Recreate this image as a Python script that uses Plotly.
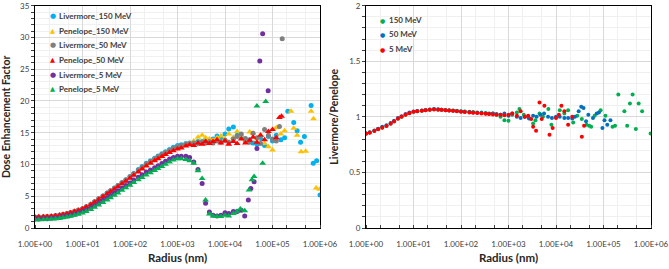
import plotly.graph_objects as go

# ---------------- data ----------------
radius_common = [1, 1.2, 1.5, 1.8, 2.2, 2.7, 3.3, 3.9, 4.7, 5.6, 6.8, 8.2,
                 10, 12, 15, 18, 22, 27, 33, 39, 47, 56, 68, 82,
                 100, 120, 150, 180, 220, 270, 330, 390, 470, 560, 680, 820, 1000]

# Left panel: Dose Enhancement Factor (values at radius_common)
liv150_low = [1.6, 1.65, 1.7, 1.75, 1.8, 1.9, 2.0, 2.1, 2.25, 2.4, 2.6, 2.8, 3.05, 3.35, 3.75, 4.15, 4.6, 5.05, 5.5,
              5.85, 6.3, 6.7, 7.15, 7.6, 8.1, 8.6, 9.2, 9.7, 10.2, 10.6, 11.0, 11.35, 11.7, 12.0, 12.35, 12.7, 13.0]
pen150_low = [1.6, 1.62, 1.66, 1.7, 1.76, 1.84, 1.95, 2.05, 2.2, 2.35, 2.55, 2.75, 3.0, 3.3, 3.7, 4.05, 4.5, 4.95, 5.4,
              5.75, 6.15, 6.55, 7.0, 7.45, 7.9, 8.4, 8.95, 9.4, 9.9, 10.35, 10.8, 11.15, 11.5, 11.9, 12.2, 12.5, 12.8]
liv50_low = [1.7, 1.72, 1.76, 1.8, 1.86, 1.95, 2.05, 2.15, 2.3, 2.45, 2.65, 2.85, 3.05, 3.35, 3.75, 4.15, 4.6, 5.05,
             5.5, 5.85, 6.27, 6.68, 7.13, 7.57, 8.05, 8.55, 9.07, 9.56, 10.06, 10.48, 10.88, 11.2, 11.56, 11.88, 12.2,
             12.5, 12.8]
pen50_low = [1.75, 1.76, 1.78, 1.8, 1.85, 1.92, 2.02, 2.12, 2.26, 2.4, 2.58, 2.77, 3.0, 3.3, 3.66, 4.04, 4.48, 4.92,
             5.35, 5.7, 6.1, 6.5, 6.95, 7.38, 7.85, 8.32, 8.82, 9.27, 9.75, 10.18, 10.58, 10.92, 11.27, 11.58, 11.9,
             12.18, 12.42]
liv5_low = [1.4, 1.41, 1.44, 1.47, 1.52, 1.58, 1.67, 1.76, 1.88, 2.01, 2.18, 2.35, 2.55, 2.83, 3.18, 3.52, 3.92, 4.35,
            4.76, 5.1, 5.5, 5.88, 6.3, 6.7, 7.1, 7.55, 8.0, 8.4, 8.8, 9.15, 9.5, 9.8, 10.15, 10.5, 10.85, 11.1, 11.3]
pen5_low = [1.3, 1.31, 1.33, 1.36, 1.4, 1.46, 1.54, 1.62, 1.74, 1.86, 2.02, 2.18, 2.35, 2.6, 2.92, 3.25, 3.62, 4.02,
            4.42, 4.76, 5.15, 5.52, 5.95, 6.35, 6.75, 7.15, 7.6, 7.95, 8.35, 8.7, 9.05, 9.35, 9.7, 10.05, 10.4, 10.7,
            10.9]

liv150_tail_r = [1200, 1500, 1800, 2200, 2700, 3300, 3900, 4700, 5600, 6800, 8200, 10000, 12000, 15000, 18000, 22000,
                 27000, 33000, 39000, 47000, 56000, 68000, 82000, 100000, 120000, 150000, 180000, 210000, 280000,
                 330000, 390000, 470000, 650000, 720000, 850000, 1000000]
liv150_tail_v = [13.1, 13.3, 13.4, 13.5, 13.6, 13.6, 13.8, 13.7, 14.0, 14.5, 14.2, 14.8, 15.6, 15.9, 14.6, 14.2, 13.6,
                 13.9, 13.4, 13.2, 14.1, 13.0, 14.4, 13.7, 14.6, 13.9, 14.2, 18.4, 16.6, 15.3, 13.5, 14.4, 19.3, 10.2,
                 10.6, 5.2]
pen150_tail_r = [1200, 1500, 1800, 2200, 2700, 3300, 3900, 4700, 5600, 6800, 8200, 10000, 12000, 15000, 18000, 22000,
                 27000, 33000, 39000, 47000, 56000, 68000, 82000, 100000, 120000, 150000, 180000, 245000, 280000,
                 330000, 400000, 500000, 650000, 730000, 830000, 980000]
pen150_tail_v = [12.9, 13.2, 13.4, 13.7, 14.3, 14.6, 14.2, 14.0, 13.8, 14.2, 14.5, 14.0, 14.8, 14.3, 15.2, 14.6, 13.9,
                 15.1, 14.9, 14.0, 14.6, 13.3, 12.8, 12.3, 15.8, 14.8, 15.3, 18.4, 15.7, 14.6, 12.0, 12.1, 18.4, 17.2,
                 6.3, 6.1]
liv50_tail_r = [1200, 1500, 1800, 2200, 2700, 3300, 3900, 4700, 5600, 6800, 8200, 10000, 12000, 15000, 18000, 22000,
                27000, 33000, 39000, 47000, 56000, 68000, 82000, 100000, 120000, 140000, 160000]
liv50_tail_v = [13.0, 13.2, 13.3, 13.4, 13.3, 13.5, 13.4, 13.6, 13.4, 13.7, 13.5, 13.8, 13.5, 14.0, 14.4, 14.8, 14.1,
                13.5, 14.9, 14.2, 13.3, 15.5, 14.6, 14.0, 13.7, 16.0, 29.8]
pen50_tail_r = [1200, 1500, 1800, 2200, 2700, 3300, 3900, 4700, 5600, 6800, 8200, 10000, 12000, 15000, 18000, 22000,
                27000, 33000, 39000, 47000, 56000, 68000, 82000, 100000, 120000, 140000, 155000]
pen50_tail_v = [12.6, 12.9, 13.1, 13.0, 13.4, 13.2, 13.6, 13.3, 13.6, 13.9, 13.4, 13.7, 13.2, 13.6, 13.3, 14.0, 13.4,
                13.8, 14.3, 13.5, 14.6, 13.9, 15.2, 15.5, 14.2, 17.4, 17.6]
liv5_tail_r = [1200, 1500, 1800, 2200, 2700, 3300, 3900, 4700, 5600, 6800, 8200, 10000, 12000, 15000, 18000, 22000,
               26000, 31000, 35000, 41000, 47000, 54000, 62000, 81000]
liv5_tail_v = [11.3, 11.3, 11.1, 10.4, 9.2, 7.0, 3.9, 2.5, 2.0, 1.9, 2.0, 2.4, 2.3, 2.6, 2.6, 2.8, 1.9, 4.4, 6.2, 7.3,
               12.5, 26.3, 30.6, 21.6]
pen5_tail_r = [1200, 1500, 1800, 2200, 2700, 3300, 3900, 4700, 5600, 6800, 8200, 10000, 12000, 15000, 18000, 21000,
               26000, 32000, 37000, 41000, 47000, 62000, 72000]
pen5_tail_v = [10.9, 10.8, 10.6, 10.2, 9.0, 7.8, 4.4, 2.2, 1.9, 1.8, 1.8, 2.0, 1.9, 2.3, 2.6, 3.0, 2.7, 6.0, 7.6, 8.1,
               19.2, 10.2, 19.9]

# Right panel: Livermore/Penelope ratio (values at radius_common)
ratio150_low = [0.85, 0.86, 0.875, 0.89, 0.905, 0.92, 0.94, 0.96, 0.985, 1.0, 1.02, 1.035, 1.045, 1.05, 1.055, 1.06,
                1.065, 1.068, 1.066, 1.065, 1.062, 1.06, 1.057, 1.054, 1.05, 1.048, 1.046, 1.043, 1.04, 1.04, 1.035,
                1.03, 1.03, 1.02, 1.0, 0.97, 0.965]
ratio50_low = [0.852, 0.862, 0.878, 0.893, 0.91, 0.925, 0.945, 0.965, 0.99, 1.005, 1.025, 1.04, 1.048, 1.052, 1.058,
               1.062, 1.066, 1.07, 1.068, 1.064, 1.06, 1.058, 1.055, 1.052, 1.048, 1.046, 1.043, 1.04, 1.036, 1.034,
               1.03, 1.028, 1.03, 1.025, 1.02, 1.03, 1.01]
ratio5_low = [0.848, 0.858, 0.872, 0.888, 0.902, 0.918, 0.938, 0.958, 0.982, 1.0, 1.018, 1.032, 1.045, 1.05, 1.056,
              1.06, 1.064, 1.066, 1.065, 1.063, 1.06, 1.058, 1.055, 1.05, 1.047, 1.044, 1.04, 1.037, 1.034, 1.03,
              1.028, 1.025, 1.022, 1.02, 1.018, 1.015, 1.02]

ratio150_tail_r = [1200, 1500, 1700, 2100, 2600, 3300, 3700, 4500, 5300, 6900, 8000, 12000, 15000, 18000, 23000,
                   28000, 35000, 44000, 50000, 55000, 65000, 87000, 110000, 155000, 175000, 205000, 275000, 315000,
                   360000, 410000, 480000, 550000, 650000, 980000]
ratio150_tail_v = [1.02, 1.04, 1.07, 1.02, 1.0, 0.94, 0.97, 1.03, 1.0, 1.07, 0.93, 1.06, 1.03, 1.06, 0.95, 1.01, 0.98,
                   0.93, 0.92, 0.91, 1.01, 1.06, 1.01, 0.91, 0.92, 1.20, 1.05, 0.92, 1.12, 1.20, 0.89, 1.12, 1.05,
                   0.85]
ratio50_tail_r = [1200, 1500, 1800, 2200, 2700, 3300, 3900, 4700, 5600, 6800, 8200, 10000, 12000, 15000, 18000,
                  22000, 25000, 30000, 34000, 38000, 43000, 48000, 60000, 72000, 80000, 95000, 105000, 120000, 140000]
ratio50_tail_v = [1.03, 1.0, 0.99, 1.0, 0.985, 1.01, 1.0, 1.02, 1.03, 1.0, 0.99, 1.0, 1.0, 0.99, 0.99, 0.985, 1.0,
                  1.05, 1.09, 1.08, 0.96, 1.02, 0.99, 1.03, 1.04, 0.9, 0.97, 0.93, 0.97]
ratio5_tail_r = [1200, 1500, 1800, 2200, 2600, 3000, 3300, 3800, 4500, 5000, 5700, 7300, 8500, 10000, 11500, 13000,
                 15000, 18000, 22000, 35000, 39000]
ratio5_tail_v = [1.03, 1.01, 1.05, 1.0, 1.01, 0.98, 0.91, 0.875, 1.13, 0.98, 1.10, 0.84, 0.9, 0.99, 1.02, 1.10, 1.05,
                 0.93, 1.0, 0.82, 0.92]

x_tickvals = [1, 10, 100, 1000, 10000, 100000, 1000000]
x_ticktext = ["1.00E+00", "1.00E+01", "1.00E+02", "1.00E+03", "1.00E+04", "1.00E+05", "1.00E+06"]
left_y_tickvals = [0, 5, 10, 15, 20, 25, 30, 35]
left_y_ticktext = ["0", "5", "10", "15", "20", "25", "30", "35"]
right_y_tickvals = [0, 0.5, 1, 1.5, 2]
right_y_ticktext = ["0", "0.5", "1", "1.5", "2"]

left_names = ["Livermore_150 MeV", "Penelope_150 MeV", "Livermore_50 MeV", "Penelope_50 MeV",
              "Livermore_5 MeV", "Penelope_5 MeV"]
left_colors = ["#00B0F0", "#FFC000", "#7F7F7F", "#FF0000", "#7030A0", "#00B050"]
left_symbols = ["circle", "triangle-up", "circle", "triangle-up", "circle", "triangle-up"]
right_names = ["150 MeV", "50 MeV", "5 MeV"]
right_colors = ["#00B050", "#0070C0", "#FF0000"]

# ---------------- figure ----------------
FONT = "Lato, 'Open Sans', sans-serif"
fig = go.Figure()

left_series = [
    (liv150_low, liv150_tail_r, liv150_tail_v),
    (pen150_low, pen150_tail_r, pen150_tail_v),
    (liv50_low, liv50_tail_r, liv50_tail_v),
    (pen50_low, pen50_tail_r, pen50_tail_v),
    (liv5_low, liv5_tail_r, liv5_tail_v),
    (pen5_low, pen5_tail_r, pen5_tail_v),
]
for (low, tr, tv), name, col, sym in zip(left_series, left_names, left_colors, left_symbols):
    fig.add_trace(go.Scatter(
        x=radius_common + tr, y=low + tv, mode="markers", name=name,
        marker=dict(color=col, symbol=sym, size=6 if sym != "circle" else 5, line=dict(width=0)),
        xaxis="x", yaxis="y", showlegend=False))

right_series = [
    (ratio150_low, ratio150_tail_r, ratio150_tail_v),
    (ratio50_low, ratio50_tail_r, ratio50_tail_v),
    (ratio5_low, ratio5_tail_r, ratio5_tail_v),
]
for (low, tr, tv), name, col in zip(right_series, right_names, right_colors):
    fig.add_trace(go.Scatter(
        x=radius_common + tr, y=low + tv, mode="markers", name=name,
        marker=dict(color=col, symbol="circle", size=4, line=dict(width=0)),
        xaxis="x2", yaxis="y2", showlegend=False))

W, H = 669, 269
ydom = [41 / H, 263.3 / H]
grid_major = "#d9d9d9"
grid_minor = "#f0f0f0"
tickfont = dict(family=FONT, size=8, color="#404040")
xtitlefont = dict(family=FONT, size=11.5, color="#262626")
ytitlefont = dict(family=FONT, size=10.5, color="#262626")

def xaxis_cfg(dom, anchor):
    return dict(domain=dom, anchor=anchor, type="log", range=[0, 6], automargin=False,
                tickmode="array", tickvals=x_tickvals, ticktext=x_ticktext, tickfont=tickfont,
                ticklabelstandoff=8,
                showgrid=True, gridcolor=grid_major, gridwidth=1,
                showline=True, linecolor="black", linewidth=1, mirror=True,
                ticks="", zeroline=False,
                minor=dict(ticks="inside", ticklen=3, tickcolor="#404040",
                           showgrid=True, gridcolor=grid_minor),
                title=dict(text="<b>Radius (nm)</b>", font=xtitlefont, standoff=6))

def yaxis_cfg(anchor, rng, tv, tt, mdt, title, standoff):
    return dict(domain=ydom, anchor=anchor, range=rng, automargin=False,
                tickmode="array", tickvals=tv, ticktext=tt,
                tickfont=tickfont, showgrid=True, gridcolor=grid_major,
                showline=True, linecolor="black", linewidth=1, mirror=True,
                ticks="outside", ticklen=3, tickcolor="#404040", zeroline=False,
                minor=dict(dtick=mdt, tick0=0, ticks="outside", ticklen=3, tickcolor="#404040",
                           showgrid=True, gridcolor=grid_minor),
                title=dict(text=title, font=ytitlefont, standoff=standoff))

fig.update_layout(
    width=W, height=H, margin=dict(l=0, r=0, t=0, b=0, autoexpand=False),
    paper_bgcolor="white", plot_bgcolor="white",
    font=dict(family=FONT),
    xaxis=xaxis_cfg([35 / W, 320 / W], "y"),
    yaxis=yaxis_cfg("x", [0, 35], left_y_tickvals, left_y_ticktext, 1,
                    "<b>Dose Enhancement Factor</b>", 9),
    xaxis2=xaxis_cfg([366 / W, 651 / W], "y2"),
    yaxis2=yaxis_cfg("x2", [0, 2], right_y_tickvals, right_y_ticktext, 0.1,
                     "<b>Livermore/Penelope</b>", 8),
)

# Legends drawn as text annotations (compact spacing like the reference)
ann = []
left_leg_y = [16, 31, 45.3, 60, 74.7, 89.3]
for name, col, sym, yy in zip(left_names, left_colors, left_symbols, left_leg_y):
    glyph = "●" if sym == "circle" else "▲"
    ann.append(dict(x=52.7 / W, y=1 - yy / H, xref="paper", yref="paper", text=glyph,
                    showarrow=False, xanchor="center", yanchor="middle",
                    font=dict(family="DejaVu Sans", size=7 if sym == "circle" else 6.5, color=col)))
    ann.append(dict(x=57 / W, y=1 - yy / H, xref="paper", yref="paper", text="<b>" + name + "</b>",
                    showarrow=False, xanchor="left", yanchor="middle",
                    font=dict(family=FONT, size=8, color="#404040")))
right_leg_y = [20, 34.3, 49]
for name, col, yy in zip(right_names, right_colors, right_leg_y):
    ann.append(dict(x=382.7 / W, y=1 - yy / H, xref="paper", yref="paper", text="●",
                    showarrow=False, xanchor="center", yanchor="middle",
                    font=dict(family="DejaVu Sans", size=6, color=col)))
    ann.append(dict(x=387 / W, y=1 - yy / H, xref="paper", yref="paper", text="<b>" + name + "</b>",
                    showarrow=False, xanchor="left", yanchor="middle",
                    font=dict(family=FONT, size=8, color="#404040")))
fig.update_layout(annotations=ann)

# remove the browser's default 8px body margin so the figure fills the window exactly
fig.write_html("out.html", config={"displayModeBar": False},
               post_script="document.body.style.margin='0';")
